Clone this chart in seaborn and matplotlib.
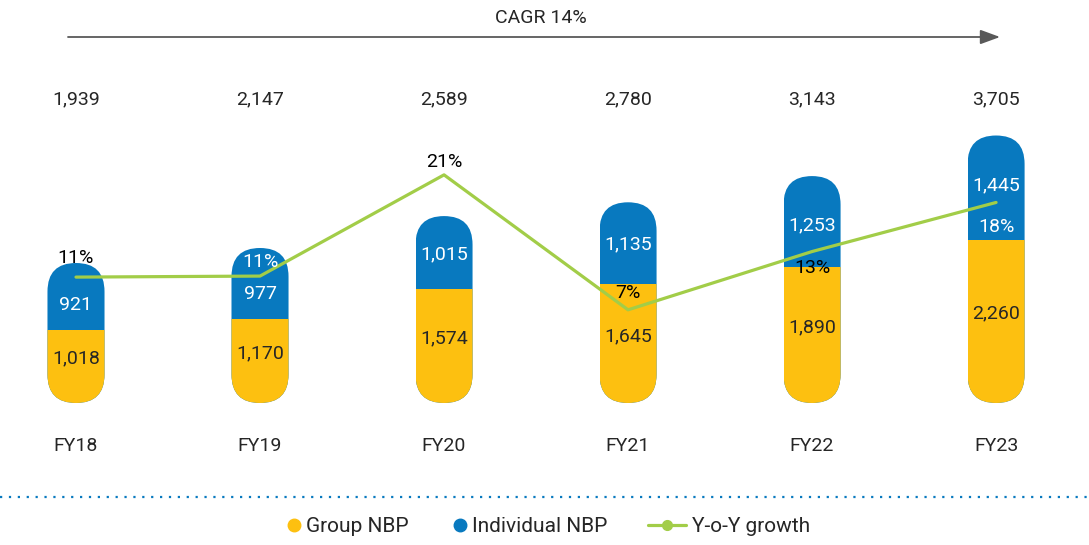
import numpy as np
import pandas as pd
import matplotlib
matplotlib.use("Agg")
import matplotlib.pyplot as plt
import seaborn as sns
from matplotlib.patches import FancyBboxPatch
from matplotlib.transforms import IdentityTransform
from matplotlib.lines import Line2D

years = ['FY18', 'FY19', 'FY20', 'FY21', 'FY22', 'FY23']
group_nbp = [1018, 1170, 1574, 1645, 1890, 2260]
individual_nbp = [921, 977, 1015, 1135, 1253, 1445]
total_nbp = [1939, 2147, 2589, 2780, 3143, 3705]
yoy_growth = [10.6, 10.7, 20.6, 7.4, 13.1, 17.9]
cagr_label = 'CAGR 14%'
legend_labels = ['Group NBP', 'Individual NBP', 'Y-o-Y growth']

YELLOW = '#FDC010'
BLUE = '#0879BF'
GREEN = '#A2CD48'

sns.set_style('white')
plt.rcParams['font.family'] = ['Roboto', 'DejaVu Sans']

W, H = 1089, 545
fig = plt.figure(figsize=(W / 100, H / 100), dpi=100)
ax = fig.add_axes([0, 0, 1, 1])

df = pd.DataFrame({'year': years, 'group': group_nbp, 'individual': individual_nbp,
                   'total': total_nbp, 'yoy': yoy_growth})

bw = 0.31
sns.barplot(data=df, x='year', y='total', color=BLUE, width=bw, saturation=1, linewidth=0, ax=ax)
sns.barplot(data=df, x='year', y='group', color=YELLOW, width=bw, saturation=1, linewidth=0, ax=ax)

# pixel geometry of the reference
px_per_unit = 0.0722
base_row = 403
ax.set_ylim(-(H - base_row) / px_per_unit, base_row / px_per_unit)
ax.set_xlim(-0.413, 5.505)
ax.axis('off')

# growth line on a twin axis
ax2 = ax.twinx()
sns.lineplot(x=np.arange(len(years)), y=df['yoy'], color=GREEN, lw=2.3, ax=ax2)
ax2.set_ylim(-15.6, 37.7)
ax2.set_xlim(-0.413, 5.505)
ax2.axis('off')

# pill shaped bars: clip each stacked pair with a rounded box
n = len(years)
for i, tot in enumerate(df['total']):
    x0, y0 = ax.transData.transform((i - bw / 2, 0))
    x1, y1 = ax.transData.transform((i + bw / 2, tot))
    r = (x1 - x0) / 2
    pill = FancyBboxPatch((x0, y0), x1 - x0, y1 - y0,
                          boxstyle=f'round,pad=0,rounding_size={r}',
                          transform=IdentityTransform())
    ax.patches[i].set_clip_path(pill)
    ax.patches[i + n].set_clip_path(pill)

# labels
fs = 14
xt = ax2.get_xaxis_transform()
ind_off = [-6, -8, -1, -1, -3, 2]
growth_off = [14, 10, 9.5, 12, -12, -18]
growth_col = ['black', 'white', 'black', 'black', 'black', 'white']
for i, (g, ind, tot, yoy) in enumerate(zip(group_nbp, individual_nbp, total_nbp, yoy_growth)):
    ax2.text(i, 1 - 99 / H, f'{tot:,}', transform=xt, ha='center', va='center', fontsize=fs)
    ax2.text(i, 1 - 446 / H, years[i], transform=xt, ha='center', va='center', fontsize=fs)
    ax2.annotate(f'{g:,}', xy=(i, g / 2), xycoords=ax.transData, xytext=(0, 5.5),
                 textcoords='offset points', ha='center', va='center', fontsize=fs)
    ax2.annotate(f'{ind:,}', xy=(i, g + ind / 2), xycoords=ax.transData, xytext=(0, ind_off[i]),
                 textcoords='offset points', ha='center', va='center', fontsize=fs, color='white')
    ax2.annotate(f'{yoy:.0f}%', xy=(i, yoy), xycoords='data', xytext=(0, growth_off[i]),
                 textcoords='offset points', ha='center', va='center', fontsize=fs, color=growth_col[i])

# CAGR arrow
ax2.annotate('', xy=(1000 / W, 1 - 37 / H), xytext=(68 / W, 1 - 37 / H),
             xycoords='figure fraction', textcoords='figure fraction',
             arrowprops=dict(arrowstyle='-|>,head_length=0.6,head_width=0.22', color='#595959',
                             lw=1.3, mutation_scale=20, shrinkA=0, shrinkB=0))
fig.text(541 / W, 1 - 18 / H, cagr_label, ha='center', va='center', fontsize=fs)

# dotted separator
fig.add_artist(Line2D([0, 1], [1 - 497 / H] * 2, transform=fig.transFigure,
                      color=BLUE, lw=1.6, linestyle=(0, (1, 3))))

# legend
h_dots = [Line2D([], [], marker='o', color=YELLOW, linestyle='none', markersize=9),
          Line2D([], [], marker='o', color=BLUE, linestyle='none', markersize=9)]
h_line = [Line2D([], [], marker='o', color=GREEN, lw=2.3, markersize=7)]
fig.legend(h_dots, legend_labels[:2], loc='center', bbox_to_anchor=(447 / W, 1 - 527 / H),
           ncol=2, frameon=False, fontsize=15, handlelength=0.7, handletextpad=0.25,
           columnspacing=2.1)
fig.legend(h_line, legend_labels[2:], loc='center', bbox_to_anchor=(729 / W, 1 - 527 / H),
           frameon=False, fontsize=15, handlelength=1.8, handletextpad=0.3)

fig.savefig('out.png', dpi=100)
